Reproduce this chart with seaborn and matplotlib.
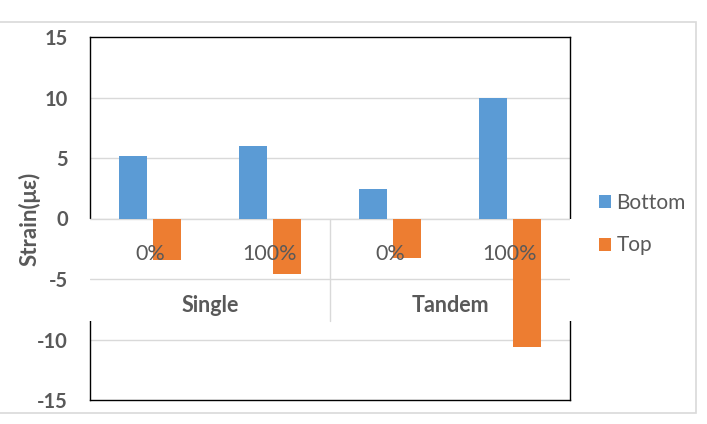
import matplotlib
matplotlib.use("Agg")
import matplotlib.pyplot as plt
import matplotlib.transforms as mtransforms
from matplotlib.patches import Rectangle
import seaborn as sns
import pandas as pd

groups = ["Single", "Single", "Tandem", "Tandem"]
levels = ["0%", "100%", "0%", "100%"]
bottom_vals = [5.2, 6.0, 2.4, 10.0]
top_vals = [-3.4, -4.6, -3.3, -10.6]
series_names = ["Bottom", "Top"]
y_ticks = [-15, -10, -5, 0, 5, 10, 15]
y_label = "Strain(\u03bc\u03b5)"

cats = [f"{g} {l}" for g, l in zip(groups, levels)]
df = pd.DataFrame({
    "cat": cats * 2,
    "series": [series_names[0]] * 4 + [series_names[1]] * 4,
    "value": bottom_vals + top_vals,
})

sns.set_theme(style="white")
plt.rcParams["font.family"] = ["Lato", "DejaVu Sans"]
GRAY = "#595959"
BLUE = "#5B9BD5"
ORANGE = "#ED7D31"

fig = plt.figure(figsize=(7.07, 4.24), dpi=100)
ax = fig.add_axes([90/707, 24/424, 480/707, 363/424])

sns.barplot(data=df, x="cat", y="value", hue="series", order=cats,
            palette=[BLUE, ORANGE], width=0.567, gap=0.2, ax=ax,
            saturation=1, legend=True, errorbar=None)
for p in ax.patches:
    p.set_zorder(4)
    p.set_linewidth(0)

ax.set_ylim(-15, 15)
ax.set_xlim(-0.5, 3.5)
ax.set_yticks(y_ticks)
ax.set_yticklabels([str(t) for t in y_ticks], fontweight="bold", color=GRAY, fontsize=14.5)
ax.tick_params(axis="y", length=0, pad=16)
ax.set_xticks([])
ax.set_xlabel("")
ax.set_ylabel(y_label, fontweight="bold", color=GRAY, fontsize=16)
ax.yaxis.set_label_coords(-49/480, 0.5)

for s in ax.spines.values():
    s.set_color("black")
    s.set_linewidth(1.0)
    s.set_zorder(2.5)

for t in y_ticks:
    if abs(t) != 15:
        ax.axhline(t, color="#D9D9D9", lw=1, zorder=1)

# label box for multi-level category axis
box_bottom = -8.43
trans = mtransforms.blended_transform_factory(ax.transAxes, ax.transData)
ax.add_patch(Rectangle((-0.01, box_bottom), 1.02, -box_bottom, transform=trans,
                       facecolor="white", edgecolor="none", zorder=2.7, clip_on=False))
ax.plot([0, 1], [0, 0], transform=trans, color="#D9D9D9", lw=1, zorder=2.8)
ax.plot([0, 1], [-5, -5], transform=trans, color="#D9D9D9", lw=1, zorder=2.8)
ax.plot([1.5, 1.5], [0, box_bottom], color="#D9D9D9", lw=1, zorder=2.8)

for i, lv in enumerate(levels):
    ax.text(i, -2.9, lv, ha="center", va="center", color=GRAY, fontsize=15.5, zorder=5)
uniq = []
for g in groups:
    if g not in uniq:
        uniq.append(g)
for g in uniq:
    idx = [i for i, gg in enumerate(groups) if gg == g]
    ax.text(sum(idx) / len(idx), -7.15, g, ha="center", va="center", color=GRAY,
            fontsize=15.5, fontweight="bold", zorder=5)

handles, labels = ax.get_legend_handles_labels()
ax.legend(handles, labels, loc="center left", bbox_to_anchor=(580/707, 1 - 224/424),
          bbox_transform=fig.transFigure, frameon=False, fontsize=15,
          handlelength=0.6, handleheight=0.6, handletextpad=0.25,
          labelspacing=1.1, labelcolor=GRAY)

fig.add_artist(Rectangle((-0.01, 11/424), 696/707 + 0.01, 391/424,
                         transform=fig.transFigure, facecolor="none",
                         edgecolor="#D9D9D9", lw=1.2))

fig.savefig("out.png", dpi=100)
